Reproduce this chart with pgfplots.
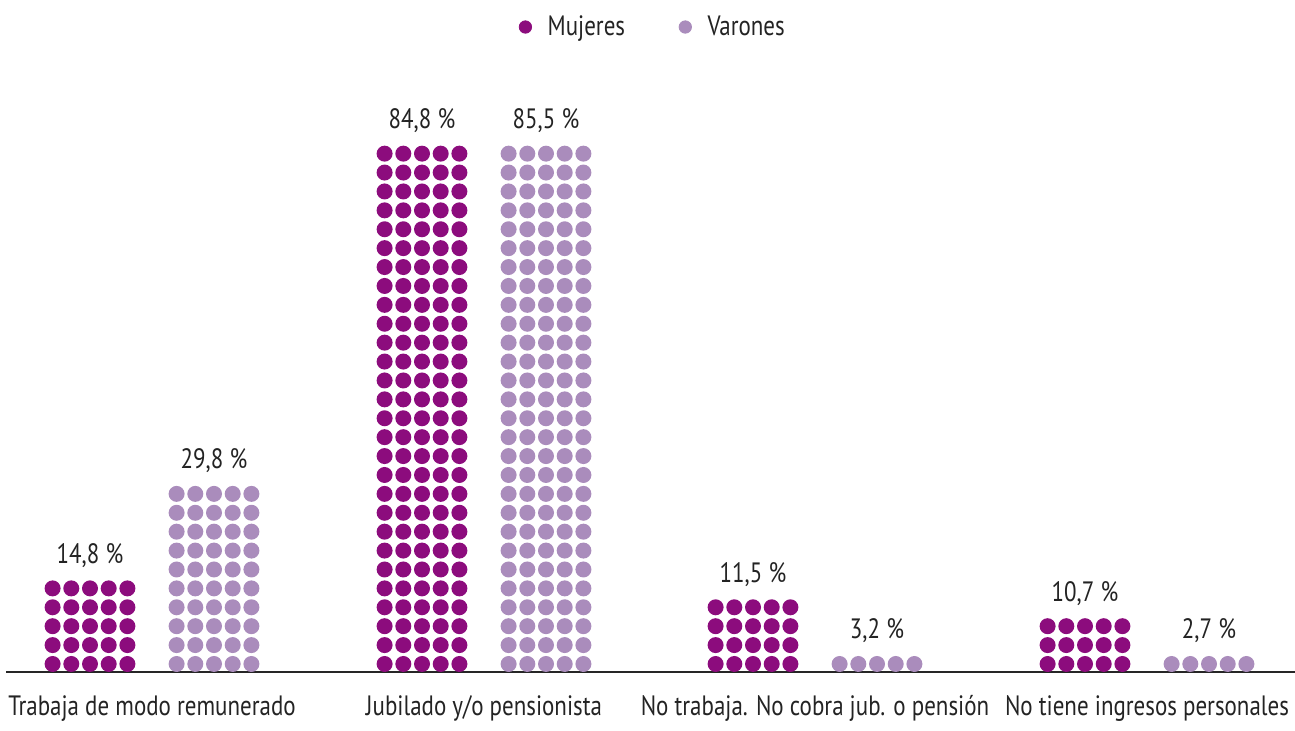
\documentclass[border=0pt]{standalone}
\usepackage{pgfplots}
\pgfplotsset{compat=1.18}
\usepackage{fontspec}
\setmainfont{PT Sans}[FakeStretch=0.82]

\definecolor{muj}{RGB}{140,12,125}
\definecolor{var}{RGB}{170,140,188}
\definecolor{txt}{RGB}{35,35,35}

% one row of five dots (each bar is five dots wide)
\pgfdeclareplotmark{dotrow}{%
  \pgfpathcircle{\pgfpoint{-18.7pt}{0pt}}{4pt}%
  \pgfpathcircle{\pgfpoint{-9.35pt}{0pt}}{4pt}%
  \pgfpathcircle{\pgfpoint{0pt}{0pt}}{4pt}%
  \pgfpathcircle{\pgfpoint{9.35pt}{0pt}}{4pt}%
  \pgfpathcircle{\pgfpoint{18.7pt}{0pt}}{4pt}%
  \pgfusepathqfill}

\begin{document}
\begin{tikzpicture}
\begin{axis}[
    name=ax,
    scale only axis,
    width=647.5pt, height=365.5pt,
    xmin=0, xmax=1295,
    ymin=-2.545, ymax=36.13,
    hide axis,
    clip=false,
    legend columns=2,
    legend style={draw=none, fill=none, text=txt,
        font=\fontsize{14}{16}\selectfont,
        at={(axis cs:654,34.7)}, anchor=center,
        /tikz/every odd column/.append style={column sep=6pt},
        /tikz/every even column/.append style={column sep=25pt}},
    nodes near coords style={text=txt, anchor=base, yshift=12.5pt,
        font=\fontsize{14}{16}\selectfont},
]
\addlegendimage{only marks, mark=*, mark size=3.1pt, color=muj}
\addlegendentry{Mujeres}
\addlegendimage{only marks, mark=*, mark size=3.1pt, color=var}
\addlegendentry{Varones}

% baseline
\addplot[forget plot, color=black!85, line width=1pt] coordinates {(6,0.55) (1295,0.55)};

% Mujeres: rows of five dots
\addplot[forget plot, only marks, mark=dotrow, color=muj] coordinates {
    (90,1) (90,2) (90,3) (90,4) (90,5)
    (422,1) (422,2) (422,3) (422,4) (422,5) (422,6) (422,7) (422,8) (422,9) (422,10)
    (422,11) (422,12) (422,13) (422,14) (422,15) (422,16) (422,17) (422,18) (422,19) (422,20)
    (422,21) (422,22) (422,23) (422,24) (422,25) (422,26) (422,27) (422,28)
    (753,1) (753,2) (753,3) (753,4)
    (1085,1) (1085,2) (1085,3)
};
% Varones: rows of five dots
\addplot[forget plot, only marks, mark=dotrow, color=var] coordinates {
    (214,1) (214,2) (214,3) (214,4) (214,5) (214,6) (214,7) (214,8) (214,9) (214,10)
    (546,1) (546,2) (546,3) (546,4) (546,5) (546,6) (546,7) (546,8) (546,9) (546,10)
    (546,11) (546,12) (546,13) (546,14) (546,15) (546,16) (546,17) (546,18) (546,19) (546,20)
    (546,21) (546,22) (546,23) (546,24) (546,25) (546,26) (546,27) (546,28)
    (877,1)
    (1209,1)
};

% percentage labels on top of each column
\addplot[forget plot, draw=none, nodes near coords, point meta=explicit symbolic] coordinates {
    (90,5) [14,8 \%]
    (214,10) [29,8 \%]
    (422,28) [84,8 \%]
    (546,28) [85,5 \%]
    (753,4) [11,5 \%]
    (877,1) [3,2 \%]
    (1085,3) [10,7 \%]
    (1209,1) [2,7 \%]
};

% category names
\begin{scope}[every node/.style={anchor=base, text=txt, font=\fontsize{14}{16}\selectfont}]
\node at (axis cs:152,-1.70) {Trabaja de modo remunerado};
\node at (axis cs:484,-1.70) {Jubilado y/o pensionista};
\node at (axis cs:815,-1.70) {No trabaja. No cobra jub. o pensión};
\node at (axis cs:1147,-1.70) {No tiene ingresos personales};
\end{scope}
\end{axis}
\pgfresetboundingbox
\path (ax.south west) rectangle (ax.north east);
\end{tikzpicture}
\end{document}
